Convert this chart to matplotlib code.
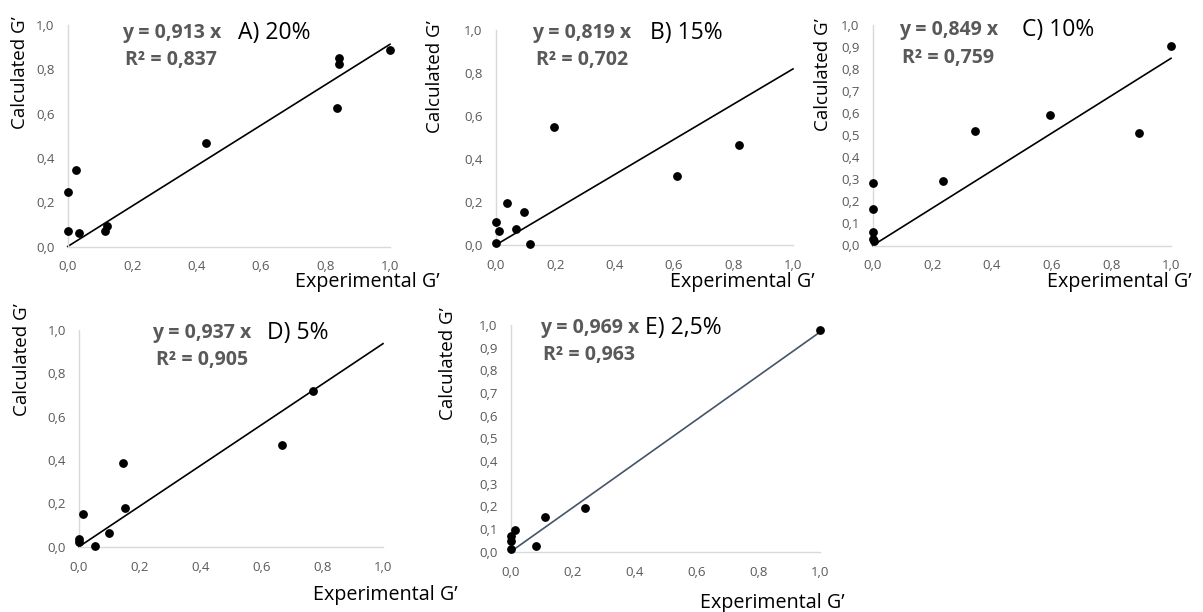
import matplotlib
matplotlib.use("Agg")
import matplotlib.pyplot as plt
import numpy as np
from matplotlib.ticker import FuncFormatter, MultipleLocator

plt.rcParams['font.family'] = ['Open Sans', 'DejaVu Sans']

# ---- data ----
panel_titles = ["A) 20%", "B) 15%", "C) 10%", "D) 5%", "E) 2,5%"]
slopes = [0.913, 0.819, 0.849, 0.937, 0.969]
slope_labels = ["0,913", "0,819", "0,849", "0,937", "0,969"]
r2_labels = ["0,837", "0,702", "0,759", "0,905", "0,963"]
y_steps = [0.2, 0.2, 0.1, 0.2, 0.1]

exp_A = [0.0, 0.002, 0.026, 0.036, 0.116, 0.121, 0.429, 0.836, 0.842, 0.842, 1.0]
calc_A = [0.071, 0.247, 0.347, 0.062, 0.072, 0.092, 0.469, 0.626, 0.853, 0.826, 0.886]

exp_B = [0.0, 0.002, 0.012, 0.037, 0.069, 0.094, 0.116, 0.195, 0.609, 0.817]
calc_B = [0.01, 0.107, 0.066, 0.197, 0.075, 0.152, 0.006, 0.548, 0.321, 0.466]

exp_C = [0.0, 0.0, 0.0, 0.002, 0.003, 0.237, 0.344, 0.596, 0.894, 1.0]
calc_C = [0.285, 0.165, 0.06, 0.03, 0.022, 0.292, 0.518, 0.59, 0.51, 0.905]

exp_D = [0.0, 0.0, 0.014, 0.053, 0.099, 0.146, 0.150, 0.669, 0.771]
calc_D = [0.034, 0.023, 0.152, 0.003, 0.063, 0.385, 0.180, 0.468, 0.718]

exp_E = [0.0, 0.002, 0.0, 0.014, 0.081, 0.112, 0.241, 1.0]
calc_E = [0.071, 0.046, 0.012, 0.094, 0.026, 0.153, 0.191, 0.98]

exp_all = [exp_A, exp_B, exp_C, exp_D, exp_E]
calc_all = [calc_A, calc_B, calc_C, calc_D, calc_E]
line_colors = ["black", "black", "black", "black", "#44546A"]
line_x = np.array([0.0, 1.0])

# ---- layout (pixel boxes: x0, x1, ytop, ybottom) ----
W, H = 1203, 612
boxes = [(67.7, 390, 25, 246.5), (495.7, 793, 30, 245), (872.7, 1171, 25, 245.5),
         (79, 383, 330, 546.7), (510.7, 820, 325, 551.7)]
eq_pos = [(122, 33), (532, 33), (899, 30), (152, 333), (540, 328)]
r2_pos = [(125, 60), (536, 60), (902, 58), (156, 360), (543, 355)]
title_pos = [(238, 33), (650, 33), (1022, 30), (267, 333), (645, 328)]
xlab_pos = [(295, 282), (670, 282), (1047, 282), (313, 595), (700, 603)]
ylab_pos = [(20, 73), (435, 77), (823, 75), (22, 360), (448, 364)]

fig = plt.figure(figsize=(W / 100, H / 100), dpi=100)
fig.patch.set_facecolor("white")

def fx(x):
    return x / W

def fy(y):
    return 1 - y / H

fmt = FuncFormatter(lambda v, p: f"{v:.1f}".replace(".", ","))
gray = "#595959"

for i in range(5):
    x0, x1, yt, yb = boxes[i]
    ax = fig.add_axes([fx(x0), fy(yb), (x1 - x0) / W, (yb - yt) / H])
    ax.set_xlim(0, 1)
    ax.set_ylim(0, 1)
    for s in ["top", "right"]:
        ax.spines[s].set_visible(False)
    for s in ["left", "bottom"]:
        ax.spines[s].set_color("#d9d9d9")
        ax.spines[s].set_linewidth(1.0)
    ax.xaxis.set_major_locator(MultipleLocator(0.2))
    ax.yaxis.set_major_locator(MultipleLocator(y_steps[i]))
    ax.xaxis.set_major_formatter(fmt)
    ax.yaxis.set_major_formatter(fmt)
    ax.tick_params(length=0, labelsize=9.5, labelcolor=gray)
    ax.tick_params(axis="x", pad=10)
    ax.tick_params(axis="y", pad=9.5)
    ax.plot(line_x, slopes[i] * line_x, color=line_colors[i], lw=1.2, clip_on=False, zorder=2)
    ax.scatter(exp_all[i], calc_all[i], s=28, color="black", clip_on=False, zorder=3)

    fig.text(fx(eq_pos[i][0]), fy(eq_pos[i][1]), f"y = {slope_labels[i]} x",
             fontsize=14, fontweight="bold", color=gray, ha="left", va="center")
    fig.text(fx(r2_pos[i][0]), fy(r2_pos[i][1]), f"R² = {r2_labels[i]}",
             fontsize=14, fontweight="bold", color=gray, ha="left", va="center")
    fig.text(fx(title_pos[i][0]), fy(title_pos[i][1]), panel_titles[i],
             fontsize=16.5, color="black", ha="left", va="center")
    fig.text(fx(xlab_pos[i][0]), fy(xlab_pos[i][1]), "Experimental G’",
             fontsize=14.2, color="black", ha="left", va="center")
    fig.text(fx(ylab_pos[i][0]), fy(ylab_pos[i][1]), "Calculated G’",
             fontsize=13.5, color="black", ha="center", va="center", rotation=90)

fig.savefig("out.png", dpi=100, facecolor="white")
